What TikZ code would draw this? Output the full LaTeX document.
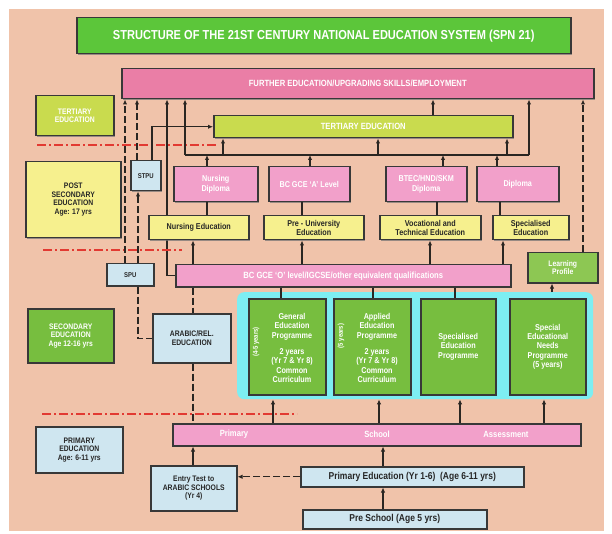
\documentclass[tikz,border=0pt]{standalone}
\usepackage{fontspec}
\setmainfont[FakeStretch=0.85]{Liberation Sans}
\usetikzlibrary{arrows.meta,shadows}
\pgfdeclarelayer{bottom}
\pgfdeclarelayer{background}
\pgfsetlayers{bottom,background,main}
\definecolor{cBg}{HTML}{F0C3AA}
\definecolor{cTitle}{HTML}{5CC63A}
\definecolor{cFE}{HTML}{EA7EA6}
\definecolor{cPink}{HTML}{F2A0CA}
\definecolor{cTert}{HTML}{C9DB4E}
\definecolor{cYel}{HTML}{F6F08E}
\definecolor{cBlue}{HTML}{CFE6F0}
\definecolor{cGreen}{HTML}{77BE3F}
\definecolor{cLP}{HTML}{8DC753}
\definecolor{cCyan}{HTML}{7DEEF2}
\definecolor{cRed}{HTML}{E23A32}
\definecolor{cLine}{HTML}{2A2622}
\begin{document}
\begin{tikzpicture}[x=1pt,y=-1pt,
  box/.style={draw=black!78, line width=1.5pt, anchor=north west, align=center, inner sep=1pt,
    drop shadow={shadow xshift=1.6pt,shadow yshift=-1.6pt,fill=black!55,opacity=0.7}},
  t13/.style={font=\fontsize{13}{15}\selectfont\bfseries},
  t10/.style={font=\fontsize{10}{10.5}\selectfont\bfseries},
  t9/.style={font=\fontsize{9}{9.6}\selectfont\bfseries},
  t85/.style={font=\fontsize{8.5}{9.3}\selectfont\bfseries},
  t8/.style={font=\fontsize{8}{8.6}\selectfont\bfseries},
  t7/.style={font=\fontsize{7}{8}\selectfont\bfseries},
  wt/.style={text=white},
  dk/.style={text=black!85},
  arr/.style={draw=cLine, line width=1.1pt, -{Latex[length=5pt,width=4.5pt]}},
  darr/.style={arr, dash pattern=on 7pt off 3pt},
  ln/.style={draw=cLine, line width=1.1pt},
  dsh/.style={ln, dash pattern=on 7pt off 3pt},
  redl/.style={draw=cRed, line width=1.3pt, dash pattern=on 9pt off 3pt on 2pt off 3pt}]
\useasboundingbox (0,0) rectangle (612,534);
\begin{pgfonlayer}{bottom}
\fill[white] (0,0) rectangle (612,534);
\fill[cBg] (9,9) rectangle (604,531);
\end{pgfonlayer}

% red separators
\draw[redl] (37,145) -- (217,145);
\draw[redl] (43,250) -- (182,250);
\draw[redl] (42,414) -- (297,414);

% cyan panel
\node[fill=cCyan, rounded corners=7pt, minimum width=356pt, minimum height=107pt, anchor=north west, inner sep=0pt] (cyan) at (237,292) {};

% boxes
\node[box, fill=cTitle, minimum width=494pt, minimum height=36pt, t13, wt] (title) at (76,17) {STRUCTURE OF THE 21ST CENTURY NATIONAL EDUCATION SYSTEM (SPN 21)};
\node[box, fill=cFE, minimum width=472pt, minimum height=30pt, t9, wt] (fe) at (121,68) {FURTHER EDUCATION/UPGRADING SKILLS/EMPLOYMENT};
\node[box, fill=cTert, minimum width=78pt, minimum height=40pt, t8, wt] (tl) at (35,95) {TERTIARY\\EDUCATION};
\node[box, fill=cTert, minimum width=299pt, minimum height=22pt, t9, wt] (tb) at (213,115) {TERTIARY EDUCATION};
\node[box, fill=cYel, minimum width=95pt, minimum height=76pt, t8, dk] (post) at (25,161) {POST\\SECONDARY\\EDUCATION\\Age: 17 yrs};
\node[box, fill=cBlue, minimum width=30pt, minimum height=30pt, t7, dk] (stpu) at (130,160) {STPU};
\node[box, fill=cPink, minimum width=84pt, minimum height=35pt, t85, wt] (nd) at (173,166) {Nursing\\Diploma};
\node[box, fill=cPink, minimum width=81pt, minimum height=35pt, t85, wt] (bc) at (268,166) {BC GCE `A' Level};
\node[box, fill=cPink, minimum width=81pt, minimum height=35pt, t85, wt] (btec) at (385,166) {BTEC/HND/SKM\\Diploma};
\node[box, fill=cPink, minimum width=82pt, minimum height=35pt, t85, wt] (dip) at (476,166) {Diploma};
\node[box, fill=cYel, minimum width=100pt, minimum height=24pt, t85, dk] (ne) at (148,215) {Nursing Education};
\node[box, fill=cYel, minimum width=100pt, minimum height=24pt, t85, dk] (pu) at (263,215) {Pre - University\\Education};
\node[box, fill=cYel, minimum width=101pt, minimum height=24pt, t85, dk] (vt) at (379,215) {Vocational and\\Technical Education};
\node[box, fill=cYel, minimum width=76pt, minimum height=24pt, t85, dk] (se) at (492,215) {Specialised\\Education};
\node[box, fill=cBlue, minimum width=47pt, minimum height=22pt, t7, dk] (spu) at (106,263) {SPU};
\node[box, fill=cPink, minimum width=335pt, minimum height=22pt, t9, wt] (ol) at (175,264) {BC GCE `O' level/IGCSE/other equivalent qualifications};
\node[box, fill=cLP, minimum width=70pt, minimum height=30pt, t8, wt] (lp) at (527,252) {Learning\\Profile};
\node[box, fill=cGreen, minimum width=77pt, minimum height=96pt] (gen) at (248,298) {};
\node[box, fill=cGreen, minimum width=77pt, minimum height=96pt] (app) at (333,298) {};
\node[box, fill=cGreen, minimum width=75pt, minimum height=96pt, t85, wt] (spp) at (420,298) {Specialised\\Education\\Programme};
\node[box, fill=cGreen, minimum width=76pt, minimum height=96pt, t85, wt] (sen) at (509,298) {Special\\Educational\\Needs\\Programme\\(5 years)};
\node[t85, wt, align=center] (gent) at (292,348) {General\\Education\\Programme\\[7pt]2 years\\(Yr 7 \& Yr 8)\\Common\\Curriculum};
\node[t85, wt, align=center] (appt) at (377,348) {Applied\\Education\\Programme\\[7pt]2 years\\(Yr 7 \& Yr 8)\\Common\\Curriculum};
\node[t7, wt, rotate=90] (genv) at (256,342) {(4-5 years)};
\node[t7, wt, rotate=90] (appv) at (341,336) {(5 years)};
\node[box, fill=cGreen, minimum width=86pt, minimum height=54pt, t8, wt] (sec) at (27,308) {SECONDARY\\EDUCATION\\Age 12-16 yrs};
\node[box, fill=cBlue, minimum width=78pt, minimum height=49pt, t8, dk] (arab) at (152,313) {ARABIC/REL.\\EDUCATION};
\node[box, fill=cPink, minimum width=408pt, minimum height=22pt] (pbar) at (172,423) {};
\node[t9, wt] (pbt1) at (234,434) {Primary};
\node[t9, wt] (pbt2) at (377,434) {School};
\node[t9, wt] (pbt3) at (506,434) {Assessment};
\node[box, fill=cBlue, minimum width=87pt, minimum height=46pt, t8, dk] (pl) at (35,426) {PRIMARY\\EDUCATION\\Age: 6-11 yrs};
\node[box, fill=cBlue, minimum width=86pt, minimum height=45pt, t8, dk] (entry) at (150,465) {Entry Test to\\ARABIC SCHOOLS\\(Yr 4)};
\node[box, fill=cBlue, minimum width=223pt, minimum height=20pt, t10, dk] (pe) at (300,466) {Primary Education (Yr 1-6) \ (Age 6-11 yrs)};
\node[box, fill=cBlue, minimum width=184pt, minimum height=19pt, t10, dk] (pre) at (302,509) {Pre School (Age 5 yrs)};

% column coordinates
\foreach \x in {125,137,138,152,167,185,193,207,223,273,281,302,310,373,378,379,383,430,433,437,443,455,460,497,500,503,507,529,544,552,583}
  {\coordinate (k\x) at (\x,0);}
\coordinate (hl) at (0,155);

% connectors: primary level
\draw[arr] (pre.north -| k383) -- (pe.south -| k383);
\draw[arr] (pe.north -| k383) -- (pbar.south -| k383);
\draw[darr] (pe.west) -- (pe.west -| entry.east);
\draw[arr] (entry.north -| k193) -- (pbar.south -| k193);
\foreach \x in {273,379,460,544}
  {\draw[arr] (pbar.north -| k\x) -- (cyan.south -| k\x);}
% secondary
\draw[dsh] (arab.south -| k193) -- (pbar.north -| k193);
\draw[dsh] (ol.south -| k193) -- (arab.north -| k193);
\draw[dsh] (spu.south -| k138) |- (arab.west);
\draw[ln] (ol.south -| k281) -- (gen.north -| k281);
\draw[ln] (ol.south -| k373) -- (app.north -| k373);
\draw[ln] (ol.south -| k455) -- (spp.north -| k455);
\draw[arr] (cyan.north -| k552) -- (lp.south -| k552);
\draw[darr] (lp.north -| k583) -- (fe.south -| k583);
% post secondary
\draw[arr] (ol.north -| k193) -- (ne.south -| k193);
\draw[arr] (ol.north -| k302) -- (pu.south -| k302);
\draw[arr] (ol.north -| k430) -- (vt.south -| k430);
\draw[arr] (ol.north -| k503) -- (se.south -| k503);
\draw[ln] (ne.north -| k207) -- (nd.south -| k207);
\draw[ln] (pu.north -| k302) -- (bc.south -| k302);
\draw[ln] (vt.north -| k437) -- (btec.south -| k437);
\draw[ln] (se.north -| k500) -- (dip.south -| k500);
\draw[arr] (nd.north -| k207) -- (hl -| k207);
\draw[arr] (bc.north -| k310) -- (hl -| k310);
\draw[arr] (btec.north -| k443) -- (hl -| k443);
\draw[arr] (dip.north -| k497) -- (hl -| k497);
\draw[ln] (hl -| k185) -- (hl -| k529);
\draw[arr] (hl -| k185) -- (fe.south -| k185);
\draw[arr] (hl -| k529) -- (fe.south -| k529);
\draw[arr] (hl -| k223) -- (tb.south -| k223);
\draw[arr] (hl -| k378) -- (tb.south -| k378);
\draw[arr] (hl -| k507) -- (tb.south -| k507);
\draw[arr] (tb.north -| k433) -- (fe.south -| k433);
\begin{pgfonlayer}{background}
\draw[arr] (ol.west) -| (fe.south -| k167);
\end{pgfonlayer}
\draw[darr] (spu.north -| k125) -- (fe.south -| k125);
\draw[darr] (spu.north -| k138) -- (stpu.south -| k138);
\draw[darr] (stpu.north -| k137) -- (fe.south -| k137);
\draw[arr] (stpu.north -| k152) |- (tb.west);
\end{tikzpicture}
\end{document}
